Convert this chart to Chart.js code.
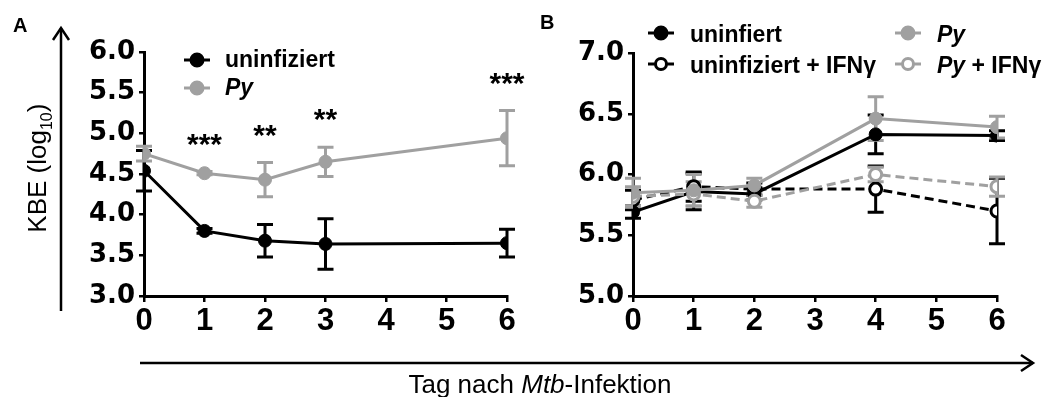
<!DOCTYPE html>
<html>
<head>
<meta charset="utf-8">
<script src="https://cdn.jsdelivr.net/npm/chart.js@4/dist/chart.umd.min.js"></script>
<style>
  body { margin: 0; background: #fff; width: 1043px; height: 397px; overflow: hidden; position: relative;
         font-family: "Liberation Sans", Arial, sans-serif; color: #000; }
  canvas { position: absolute; top: 0; }
  .lbl { position: absolute; white-space: nowrap; }
  .panel { font-weight: bold; font-size: 20px; line-height: 20px; }
  .leg { font-weight: bold; font-size: 23px; line-height: 26px; }
  svg { position: absolute; left: 0; top: 0; }
</style>
</head>
<body>
<canvas id="chartA" width="470" height="345" style="left:60px"></canvas>
<canvas id="chartB" width="480" height="345" style="left:540px"></canvas>

<svg width="1043" height="397">
  <!-- Achsenpfeile -->
  <g stroke="#000" stroke-width="2.5" fill="none">
    <line x1="61" y1="311" x2="61" y2="28"/>
    <polyline points="53,40 61,28 69,40"/>
    <line x1="140" y1="363" x2="1033" y2="363"/>
    <polyline points="1021,355 1033,363 1021,371"/>
  </g>
  <!-- Legende A -->
  <g stroke-width="3">
    <line x1="184" y1="60" x2="210" y2="60" stroke="#000"/>
    <circle cx="197" cy="60" r="6" fill="#000" stroke="#000"/>
    <line x1="184" y1="88" x2="210" y2="88" stroke="#a0a0a0"/>
    <circle cx="197" cy="88" r="6" fill="#a0a0a0" stroke="#a0a0a0"/>
  </g>
  <!-- Legende B -->
  <g stroke-width="3">
    <line x1="648" y1="33" x2="674" y2="33" stroke="#000"/>
    <circle cx="661" cy="33" r="6" fill="#000" stroke="#000"/>
    <line x1="648" y1="64" x2="674" y2="64" stroke="#000"/>
    <circle cx="661" cy="64" r="5.5" fill="#fff" stroke="#000"/>
    <line x1="895" y1="33" x2="921" y2="33" stroke="#a0a0a0"/>
    <circle cx="908" cy="33" r="6" fill="#a0a0a0" stroke="#a0a0a0"/>
    <line x1="895" y1="64" x2="921" y2="64" stroke="#a0a0a0"/>
    <circle cx="908" cy="64" r="5.5" fill="#fff" stroke="#a0a0a0"/>
  </g>
</svg>

<div class="lbl panel" style="left:13px;top:15px">A</div>
<div class="lbl panel" style="left:540px;top:12px">B</div>

<div class="lbl leg" style="left:225px;top:46px">uninfiziert</div>
<div class="lbl leg" style="left:225px;top:74px"><i>Py</i></div>

<div class="lbl leg" style="left:690px;top:21px">uninfiert</div>
<div class="lbl leg" style="left:690px;top:52px">uninfiziert + IFNγ</div>
<div class="lbl leg" style="left:937px;top:21px"><i>Py</i></div>
<div class="lbl leg" style="left:937px;top:52px"><i>Py</i> + IFNγ</div>

<div class="lbl" style="left:-23px;top:148px;width:130px;text-align:center;font-size:26px;line-height:30px;transform:rotate(-90deg)">KBE (log<sub style="font-size:16px">10</sub>)</div>
<div class="lbl" style="left:340px;top:369px;width:400px;text-align:center;font-size:26px;line-height:30px">Tag nach <i>Mtb</i>-Infektion</div>

<script>
// Panel A
const daysA = [0, 1, 2, 3, 6];
const uninfA = [4.54, 3.80, 3.68, 3.64, 3.65];
const uninfA_sd = [0.25, 0.03, 0.20, 0.31, 0.17];
const pyA = [4.75, 4.51, 4.43, 4.65, 4.94];
const pyA_sd = [0.09, 0.02, 0.21, 0.18, 0.34];
const starsA = ['', '***', '**', '**', '***'];
const yTicksA = [3.0, 3.5, 4.0, 4.5, 5.0, 5.5, 6.0];

// Panel B
const daysB = [0, 1, 2, 4, 6];
const uninfB = [5.69, 5.86, 5.84, 6.33, 6.32];
const uninfB_sd = [0.05, 0.15, 0.05, 0.16, 0.04];
const uninfIfnB = [5.79, 5.90, 5.88, 5.88, 5.70];
const uninfIfnB_sd = [0.08, 0.12, 0.05, 0.19, 0.27];
const pyB = [5.85, 5.87, 5.91, 6.46, 6.39];
const pyB_sd = [0.12, 0.13, 0.06, 0.18, 0.09];
const pyIfnB = [5.82, 5.84, 5.78, 6.00, 5.90];
const pyIfnB_sd = [0.08, 0.10, 0.05, 0.06, 0.08];
const yTicksB = [5.0, 5.5, 6.0, 6.5, 7.0];

const xTicks = [0, 1, 2, 3, 4, 5, 6];

const BLACK = '#000';
const GREY = '#a0a0a0';

const pts = (xs, ys) => xs.map((d, i) => ({ x: d, y: ys[i] }));

// Fehlerbalken (SD) unter den Linien zeichnen
const errorBars = {
  id: 'errorBars',
  beforeDatasetsDraw(chart) {
    const { ctx, scales: { x, y } } = chart;
    chart.data.datasets.forEach(ds => {
      if (!ds.sd) return;
      ctx.save();
      ctx.strokeStyle = ds.borderColor;
      ctx.lineWidth = 3;
      ctx.setLineDash([]);
      ds.data.forEach((p, j) => {
        const s = ds.sd[j];
        if (!s) return;
        const px = x.getPixelForValue(p.x);
        const t = y.getPixelForValue(p.y + s);
        const b = y.getPixelForValue(p.y - s);
        ctx.beginPath();
        ctx.moveTo(px, t); ctx.lineTo(px, b);
        ctx.moveTo(px - 8, t); ctx.lineTo(px + 8, t);
        ctx.moveTo(px - 8, b); ctx.lineTo(px + 8, b);
        ctx.stroke();
      });
      ctx.restore();
    });
  }
};

// Signifikanz-Sterne über Py
const stars = {
  id: 'stars',
  afterDatasetsDraw(chart, args, opts) {
    if (!opts.labels) return;
    const { ctx, scales: { x, y } } = chart;
    ctx.save();
    ctx.font = 'bold 30px "Liberation Sans", Arial, sans-serif';
    ctx.fillStyle = BLACK;
    ctx.textAlign = 'center';
    ctx.textBaseline = 'middle';
    opts.labels.forEach((s, i) => {
      if (!s) return;
      const top = y.getPixelForValue(opts.values[i] + opts.sd[i]);
      ctx.fillText(s, x.getPixelForValue(opts.days[i]), top - 26);
    });
    ctx.restore();
  }
};

function line(label, xs, ys, sd, color, open, dashed, order) {
  return {
    label: label,
    data: pts(xs, ys),
    sd: sd,
    order: order,
    borderColor: color,
    backgroundColor: open ? '#fff' : color,
    borderWidth: 3,
    borderDash: dashed ? [9, 5] : [],
    pointRadius: open ? 6 : 6.5,
    pointBorderWidth: open ? 3 : 1,
    pointBorderColor: color,
    pointBackgroundColor: open ? '#fff' : color,
    tension: 0,
    fill: false
  };
}

function axes(yMin, yMax, yTicks, yWidth) {
  return {
    x: {
      type: 'linear', min: 0, max: 6,
      afterBuildTicks: s => { s.ticks = xTicks.map(v => ({ value: v })); },
      afterFit: s => { s.height = 49; },
      ticks: { color: BLACK, padding: 1, font: { family: '"Liberation Sans", Arial', size: 31, weight: 'bold' } },
      grid: { drawOnChartArea: false, tickLength: 6, color: BLACK, lineWidth: 2.5 },
      border: { color: BLACK, width: 3 }
    },
    y: {
      min: yMin, max: yMax,
      afterBuildTicks: s => { s.ticks = yTicks.map(v => ({ value: v })); },
      afterFit: s => { s.width = yWidth; },
      ticks: { color: BLACK, padding: 4, callback: v => v.toFixed(1),
               font: { family: '"DejaVu Sans"', size: 26, weight: 'bold' } },
      grid: { drawOnChartArea: false, tickLength: 5, color: BLACK, lineWidth: 2.5 },
      border: { color: BLACK, width: 3 }
    }
  };
}

const common = {
  responsive: false,
  animation: false,
  events: [],
  plugins: { legend: { display: false }, tooltip: { enabled: false } }
};

new Chart(document.getElementById('chartA'), {
  type: 'line',
  data: {
    datasets: [
      line('uninfiziert', daysA, uninfA, uninfA_sd, BLACK, false, false, 0),
      line('Py', daysA, pyA, pyA_sd, GREY, false, false, 1)
    ]
  },
  options: Object.assign({}, common, {
    layout: { padding: { left: 0, top: 52, right: 23, bottom: 0 } },
    scales: axes(3, 6, yTicksA, 84),
    plugins: Object.assign({}, common.plugins, {
      stars: { labels: starsA, values: pyA, sd: pyA_sd, days: daysA }
    })
  }),
  plugins: [errorBars, stars]
});

new Chart(document.getElementById('chartB'), {
  type: 'line',
  data: {
    datasets: [
      line('uninfiert', daysB, uninfB, uninfB_sd, BLACK, false, false, 2),
      line('uninfiziert + IFNγ', daysB, uninfIfnB, uninfIfnB_sd, BLACK, true, true, 3),
      line('Py', daysB, pyB, pyB_sd, GREY, false, false, 0),
      line('Py + IFNγ', daysB, pyIfnB, pyIfnB_sd, GREY, true, true, 1)
    ]
  },
  options: Object.assign({}, common, {
    layout: { padding: { left: 0, top: 53, right: 23, bottom: 0 } },
    scales: axes(5, 7, yTicksB, 93)
  }),
  plugins: [errorBars]
});
</script>
</body>
</html>
